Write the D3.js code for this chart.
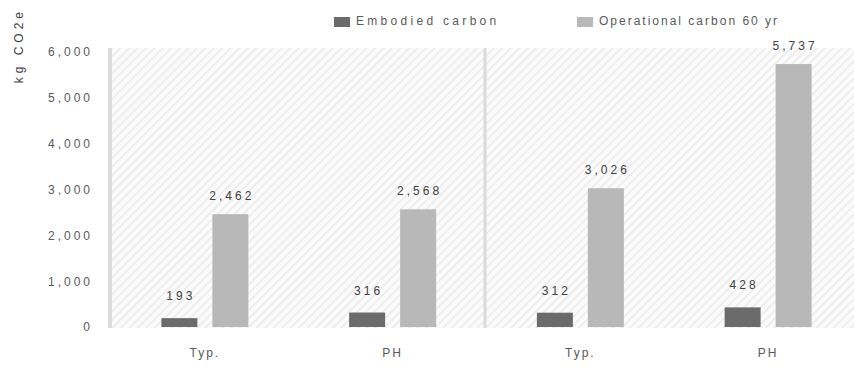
<!DOCTYPE html>
<html>
<head>
<meta charset="utf-8">
<script src="https://cdn.jsdelivr.net/npm/d3@7"></script>
<style>
  body { margin: 0; background: #fff; }
  svg text { font-family: "Liberation Sans", Arial, sans-serif; }
</style>
</head>
<body>
<svg id="chart" width="854" height="371"></svg>
<script>
// Chart data
const categories = ["Typ.", "PH", "Typ.", "PH"];
const seriesNames = ["Embodied carbon", "Operational carbon 60 yr"];
const embodied = [193, 316, 312, 428];
const operational = [2462, 2568, 3026, 5737];
const yTicks = [0, 1000, 2000, 3000, 4000, 5000, 6000];
const yTitle = "kg CO2e";

const svg = d3.select("#chart");
const W = 854, H = 371;
const m = { left: 111, top: 48, bottom: 43 };
const plotW = 751;               // plot runs a little past the right edge
const plotH = H - m.top - m.bottom;

const textColor = "#595959";
const colors = ["#6b6b6b", "#b8b8b8"];

// Diagonal hatch for the plot background
const defs = svg.append("defs");
const pat = defs.append("pattern")
  .attr("id", "hatch").attr("patternUnits", "userSpaceOnUse")
  .attr("width", 6).attr("height", 6)
  .attr("patternTransform", "rotate(45)");
pat.append("rect").attr("width", 6).attr("height", 6).attr("fill", "#fbfbfb");
pat.append("line").attr("x1", 0).attr("y1", 0).attr("x2", 0).attr("y2", 6)
  .attr("stroke", "#e9e9e9").attr("stroke-width", 3);

const g = svg.append("g").attr("transform", `translate(${m.left},${m.top})`);

g.append("rect").attr("width", plotW).attr("height", plotH).attr("fill", "url(#hatch)");

const y = d3.scaleLinear().domain([0, 6000]).range([plotH - 1, 4]);
const x0 = d3.scaleBand().domain(d3.range(categories.length)).range([0, plotW]);
const groupW = 87;
const x1 = d3.scaleBand().domain([0, 1]).range([0, groupW]).paddingInner(0.294);
const groupOffset = (x0.bandwidth() - groupW) / 2;

// Left border and the scenario divider
g.append("rect").attr("x", -3).attr("y", 0).attr("width", 4).attr("height", plotH).attr("fill", "#dcdcdc");
g.append("rect").attr("x", x0(2) - 3).attr("y", 0).attr("width", 3).attr("height", plotH).attr("fill", "#d9d9d9");

// Y axis labels
const yAxis = d3.axisLeft(y).tickValues(yTicks).tickSize(0).tickPadding(18)
  .tickFormat(d3.format(","));
const ya = g.append("g").call(yAxis);
ya.select(".domain").remove();
ya.selectAll("text").attr("fill", textColor).attr("font-size", 12)
  .style("letter-spacing", "3px");

// Y axis title
svg.append("text")
  .attr("transform", "translate(20,8) rotate(-90)")
  .attr("text-anchor", "end").attr("dominant-baseline", "middle")
  .attr("fill", "#404040").attr("font-size", 12).style("letter-spacing", "4px")
  .text(yTitle);

// Bars
const rows = categories.map((c, i) => ({ i, vals: [embodied[i], operational[i]] }));
const grp = g.selectAll(".grp").data(rows).enter().append("g")
  .attr("transform", d => `translate(${x0(d.i) + groupOffset},0)`);

grp.selectAll("rect").data(d => d.vals.map((v, k) => ({ v, k }))).enter().append("rect")
  .attr("x", d => x1(d.k)).attr("width", x1.bandwidth())
  .attr("y", d => y(d.v)).attr("height", d => y(0) - y(d.v))
  .attr("fill", d => colors[d.k]);

grp.selectAll(".lbl").data(d => d.vals.map((v, k) => ({ v, k }))).enter().append("text")
  .attr("x", d => x1(d.k) + x1.bandwidth() / 2 + 1.5)
  .attr("y", d => y(d.v) - (d.k === 0 ? 18 : 14))
  .attr("text-anchor", "middle").attr("fill", "#404040").attr("font-size", 12)
  .style("letter-spacing", "3px")
  .text(d => d3.format(",")(d.v));

// Category labels
g.selectAll(".cat").data(categories).enter().append("text")
  .attr("x", (d, i) => x0(i) + x0.bandwidth() / 2)
  .attr("y", plotH + 29)
  .attr("text-anchor", "middle").attr("fill", textColor).attr("font-size", 12)
  .style("letter-spacing", "2px")
  .text(d => d);

// Legend
const legendX = [334, 577];
const leg = svg.selectAll(".leg").data(seriesNames).enter().append("g")
  .attr("transform", (d, i) => `translate(${legendX[i]},22)`);
leg.append("rect").attr("x", 0).attr("y", -5).attr("width", 16).attr("height", 10)
  .attr("fill", (d, i) => colors[i]);
leg.append("text").attr("x", 22).attr("y", 0).attr("dominant-baseline", "middle")
  .attr("fill", textColor).attr("font-size", 12)
  .style("letter-spacing", (d, i) => i === 0 ? "3.3px" : "2px")
  .text(d => d);
</script>
</body>
</html>
